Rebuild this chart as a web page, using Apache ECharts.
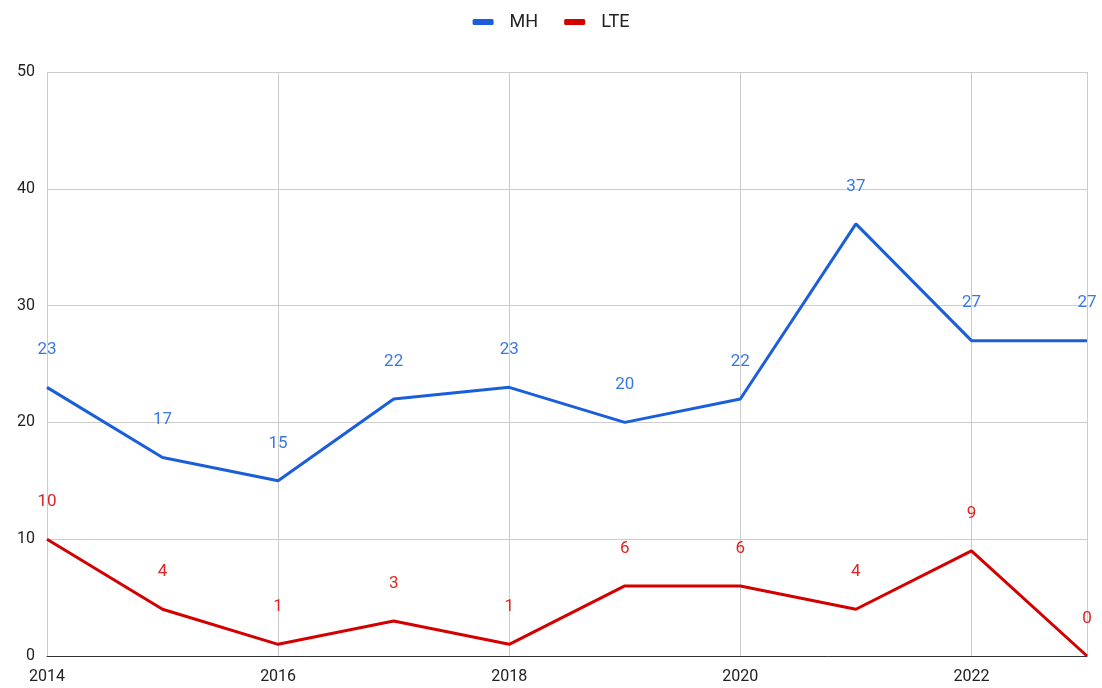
<!DOCTYPE html>
<html>
<head>
<meta charset="utf-8">
<script src="https://cdn.jsdelivr.net/npm/echarts@6/dist/echarts.min.js"></script>
<style>
  html, body { margin: 0; padding: 0; background: #fff; }
  #chart { width: 1102px; height: 688px; }
</style>
</head>
<body>
<div id="chart"></div>
<script>
// data
var years = [2014, 2015, 2016, 2017, 2018, 2019, 2020, 2021, 2022, 2023];
var mhValues = [23, 17, 15, 22, 23, 20, 22, 37, 27, 27];
var lteValues = [10, 4, 1, 3, 1, 6, 6, 4, 9, 0];

function pairs(vals) {
  return years.map(function (y, i) { return [y, vals[i]]; });
}

var chart = echarts.init(document.getElementById('chart'));
var option = {
  animation: false,
  textStyle: { fontFamily: 'Roboto' },
  legend: {
    top: 8,
    left: 'center',
    itemWidth: 21,
    itemHeight: 6,
    itemGap: 26,
    icon: 'roundRect',
    textStyle: { fontSize: 18, color: '#222', padding: [0, 0, 0, 11] },
    data: ['MH', 'LTE']
  },
  grid: { left: 47, right: 15, top: 72, bottom: 32 },
  xAxis: {
    type: 'value',
    min: 2014,
    max: 2023,
    interval: 2,
    axisLine: { lineStyle: { color: '#333', width: 1 } },
    axisTick: { show: false },
    axisLabel: {
      color: '#222', fontSize: 16, margin: 13, showMaxLabel: false,
      formatter: function (v) { return String(v); }
    },
    splitLine: { show: true, lineStyle: { color: '#ccc' } }
  },
  yAxis: {
    type: 'value',
    min: 0,
    max: 50,
    interval: 10,
    axisLine: { show: false },
    axisTick: { show: false },
    axisLabel: { color: '#222', fontSize: 16, margin: 12 },
    splitLine: { lineStyle: { color: '#ccc' } }
  },
  series: [
    {
      name: 'MH',
      type: 'line',
      data: pairs(mhValues),
      symbol: 'circle',
      symbolSize: 0.1,
      lineStyle: { color: '#1a5fd9', width: 3 },
      itemStyle: { color: '#1a5fd9' },
      label: { show: true, position: 'top', distance: 29, color: '#3a78e0', fontSize: 17 }
    },
    {
      name: 'LTE',
      type: 'line',
      data: pairs(lteValues),
      symbol: 'circle',
      symbolSize: 0.1,
      lineStyle: { color: '#d40000', width: 3 },
      itemStyle: { color: '#d40000' },
      label: { show: true, position: 'top', distance: 29, color: '#e02424', fontSize: 17 }
    }
  ]
};
chart.setOption(option);
</script>
</body>
</html>
